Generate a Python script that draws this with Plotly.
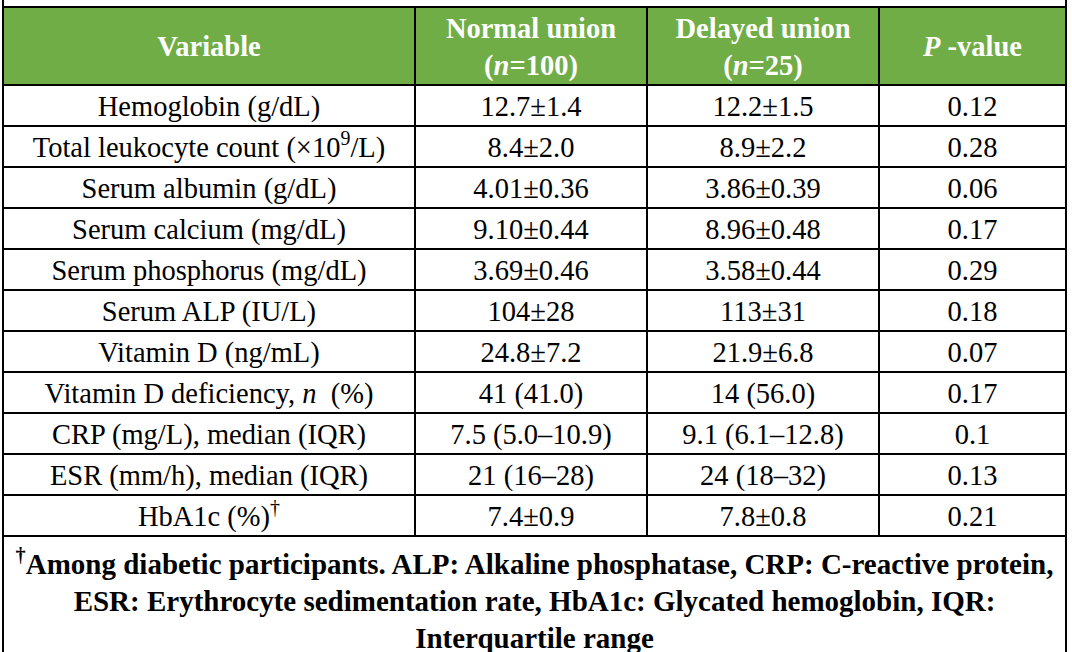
import plotly.graph_objects as go

# table content
headers = ['Variable', 'Normal union<br>(<i>n</i>=100)', 'Delayed union<br>(<i>n</i>=25)', '<i>P</i> -value']
variables = ['Hemoglobin (g/dL)', 'Total leukocyte count (×10<sup>9</sup>/L)', 'Serum albumin (g/dL)',
             'Serum calcium (mg/dL)', 'Serum phosphorus (mg/dL)', 'Serum ALP (IU/L)', 'Vitamin D (ng/mL)',
             'Vitamin D deficiency, <i>n</i>  (%)', 'CRP (mg/L), median (IQR)', 'ESR (mm/h), median (IQR)',
             'HbA1c (%)<sup>†</sup>']
normal_union = ['12.7±1.4', '8.4±2.0', '4.01±0.36', '9.10±0.44', '3.69±0.46', '104±28', '24.8±7.2',
                '41 (41.0)', '7.5 (5.0–10.9)', '21 (16–28)', '7.4±0.9']
delayed_union = ['12.2±1.5', '8.9±2.2', '3.86±0.39', '8.96±0.48', '3.58±0.44', '113±31', '21.9±6.8',
                 '14 (56.0)', '9.1 (6.1–12.8)', '24 (18–32)', '7.8±0.8']
p_values = ['0.12', '0.28', '0.06', '0.17', '0.29', '0.18', '0.07', '0.17', '0.1', '0.13', '0.21']
footnote = ['<sup>†</sup>Among diabetic participants. ALP: Alkaline phosphatase, CRP: C-reactive protein,',
            'ESR: Erythrocyte sedimentation rate, HbA1c: Glycated hemoglobin, IQR:',
            'Interquartile range']

# layout (pixel units on the axes)
W, H = 1072, 652
left = 3
col_widths = [412, 232, 232, 187]
top = 7
header_h = 78
row_h = 41
text_shift = 3
foot_first = 567
foot_step = 37
font = 'Liberation Serif'
green = '#70AD47'

edges = [left]
for w in col_widths:
    edges.append(edges[-1] + w)
centers = [(edges[i] + edges[i + 1]) / 2 for i in range(len(col_widths))]
n_rows = len(variables)
row_tops = [top + header_h + i * row_h for i in range(n_rows)]
row_mid = [t + row_h / 2 + text_shift for t in row_tops]
bottom = top + header_h + n_rows * row_h

fig = go.Figure()

# header text
fig.add_trace(go.Scatter(
    x=centers, y=[top + header_h / 2 + text_shift] * len(headers), text=headers, mode='text',
    textposition='middle center', hoverinfo='skip',
    textfont=dict(family=font, size=28.5, color='white', weight='bold')))

# body columns
for col, vals in enumerate([variables, normal_union, delayed_union, p_values]):
    fig.add_trace(go.Scatter(
        x=[centers[col]] * n_rows, y=row_mid, text=vals, mode='text',
        textposition='middle center', hoverinfo='skip',
        textfont=dict(family=font, size=28.5, color='black')))

# footnote
foot_x = (edges[0] + edges[-1]) / 2
fig.add_trace(go.Scatter(
    x=[foot_x] * len(footnote), y=[foot_first + i * foot_step for i in range(len(footnote))],
    text=footnote, mode='text', textposition='middle center', hoverinfo='skip',
    textfont=dict(family=font, size=29, color='black', weight='bold')))

line = dict(color='black', width=2)
shapes = [dict(type='rect', x0=edges[0], x1=edges[-1], y0=top, y1=top + header_h,
               fillcolor=green, line=dict(width=0), layer='below')]
for y in [top, top + header_h] + [t + row_h for t in row_tops]:
    shapes.append(dict(type='line', x0=edges[0], x1=edges[-1], y0=y, y1=y, line=line))
for x in edges[1:-1]:
    shapes.append(dict(type='line', x0=x, x1=x, y0=top, y1=bottom, line=line))
for x in [edges[0], edges[-1]]:
    shapes.append(dict(type='line', x0=x, x1=x, y0=0, y1=H, line=line))

fig.update_layout(
    width=W, height=H, margin=dict(l=0, r=0, t=0, b=0),
    paper_bgcolor='white', plot_bgcolor='white', showlegend=False,
    xaxis=dict(range=[0, W], visible=False, fixedrange=True),
    yaxis=dict(range=[H, 0], visible=False, fixedrange=True),
    shapes=shapes)

fig.write_html('out.html', config={'displayModeBar': False},
               post_script="document.body.style.margin='0';")
